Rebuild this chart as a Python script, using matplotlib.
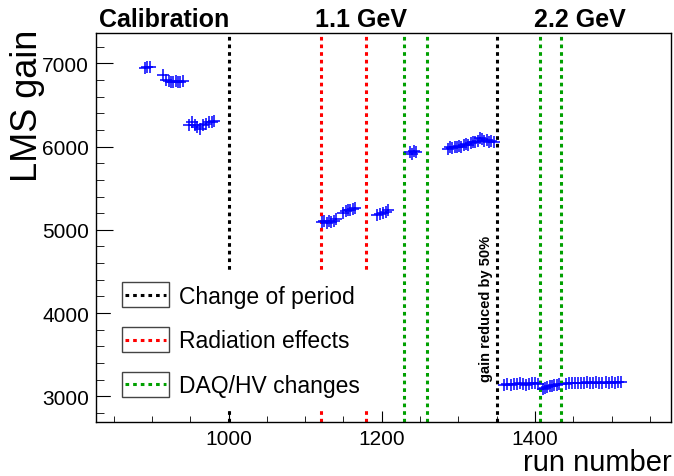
import matplotlib
matplotlib.use("Agg")
import matplotlib.pyplot as plt
from matplotlib.legend_handler import HandlerBase
from matplotlib.patches import Rectangle
from matplotlib.lines import Line2D
from matplotlib.ticker import MultipleLocator

plt.rcParams['font.family'] = ['Liberation Sans', 'DejaVu Sans']

# run number / LMS gain
calib_runs = [891, 894, 897, 915, 918, 922, 925, 928, 931, 934, 937, 940,
              948, 952, 956, 959, 963, 967, 971, 974, 978, 981]
calib_gain = [6940, 6960, 6950, 6860, 6800, 6790, 6780, 6770, 6790, 6770, 6780, 6790,
              6260, 6290, 6260, 6240, 6210, 6260, 6270, 6290, 6300, 6310]

low_runs = [1122, 1125, 1128, 1131, 1134, 1137, 1140,
            1150, 1153, 1156, 1159, 1162, 1165,
            1194, 1198, 1202, 1205, 1208,
            1237, 1240, 1242, 1244,
            1286, 1289, 1292, 1295, 1298, 1301, 1304, 1307, 1310, 1313, 1316,
            1319, 1322, 1325, 1328, 1331, 1334, 1337, 1340, 1343, 1346]
low_gain = [5090, 5110, 5080, 5100, 5090, 5110, 5130,
            5200, 5230, 5240, 5240, 5250, 5260,
            5175, 5185, 5200, 5220, 5240,
            5940, 5910, 5950, 5930,
            5970, 5990, 5980, 6000, 5990, 6010, 6000, 6020, 6030, 6020, 6040,
            6050, 6060, 6070, 6100, 6090, 6070, 6080, 6060, 6070, 6060]

high_runs = [1360, 1364, 1368, 1372, 1376, 1380, 1384, 1388, 1392, 1396, 1400, 1404,
             1410, 1413, 1416, 1419, 1422, 1425, 1428, 1431,
             1440, 1444, 1448, 1452, 1456, 1460, 1464, 1468, 1472, 1476, 1480,
             1484, 1488, 1492, 1496, 1500, 1504, 1508, 1512]
high_gain = [3140, 3145, 3140, 3150, 3145, 3155, 3150, 3140, 3150, 3155, 3160, 3150,
             3090, 3100, 3110, 3120, 3130, 3135, 3140, 3150,
             3150, 3160, 3155, 3165, 3160, 3165, 3160, 3170, 3165, 3160, 3170,
             3165, 3160, 3170, 3165, 3170, 3165, 3170, 3175]

period_lines = [1000, 1350]
radiation_lines = [1120, 1180]
daq_lines = [1229, 1259, 1407, 1434]

line_colors = {"period": "black", "radiation": "#ff0000", "daq": "#00a000"}
dotted = (0, (1.2, 1.3))


class BoxLineHandler(HandlerBase):
    def create_artists(self, legend, orig_handle, xdescent, ydescent,
                       width, height, fontsize, trans):
        box = Rectangle((-xdescent, -ydescent), width, height, fill=False,
                        edgecolor="#444444", lw=1.0, transform=trans)
        y = -ydescent + height / 2
        line = Line2D([-xdescent + 2, -xdescent + width - 2], [y, y],
                      color=orig_handle.get_color(), lw=2.2, linestyle=dotted,
                      transform=trans)
        return [box, line]


fig = plt.figure(figsize=(6.74, 4.77), dpi=100)
ax = fig.add_axes([0.1424, 0.1138, 0.8527, 0.8149])

for x in period_lines:
    ax.axvline(x, color=line_colors["period"], lw=2.2, linestyle=dotted, zorder=1)
for x in radiation_lines:
    ax.axvline(x, color=line_colors["radiation"], lw=2.2, linestyle=dotted, zorder=1)
for x in daq_lines:
    ax.axvline(x, color=line_colors["daq"], lw=2.2, linestyle=dotted, zorder=1)

for runs, gain in [(calib_runs, calib_gain), (low_runs, low_gain), (high_runs, high_gain)]:
    ax.plot(runs, gain, linestyle="none", marker="+", markersize=9,
            markeredgewidth=1.1, color="blue", zorder=6)

ax.set_xlim(827, 1577)
ax.set_ylim(2695, 7364)
ax.xaxis.set_major_locator(MultipleLocator(200))
ax.xaxis.set_minor_locator(MultipleLocator(50))
ax.yaxis.set_major_locator(MultipleLocator(1000))
ax.yaxis.set_minor_locator(MultipleLocator(200))
ax.tick_params(axis="both", which="both", direction="in", labelsize=15,
               top=False, right=False)
ax.tick_params(axis="x", which="major", length=8, pad=5)
ax.tick_params(axis="x", which="minor", length=4)
ax.tick_params(axis="y", which="major", length=12, pad=5)
ax.tick_params(axis="y", which="minor", length=6)
for s in ax.spines.values():
    s.set_linewidth(1.0)

handles = [Line2D([], [], color=line_colors["period"]),
           Line2D([], [], color=line_colors["radiation"]),
           Line2D([], [], color=line_colors["daq"])]
labels = ["Change of period", "Radiation effects", "DAQ/HV changes"]
leg = ax.legend(handles, labels, handler_map={Line2D: BoxLineHandler()},
                loc="upper left", bbox_to_anchor=(0.027, 0.385), borderaxespad=0,
                fontsize=16.5, handlelength=2.05, handleheight=1.3,
                handletextpad=0.45, labelspacing=0.85, borderpad=0.45,
                frameon=True, fancybox=False, framealpha=1,
                facecolor="white", edgecolor="white")
leg.set_zorder(5)

ax.text(1336, 3190, "gain reduced by 50%", rotation=90, ha="center", va="bottom",
        fontsize=10.5, fontweight="bold", zorder=7)

fig.text(0.0415, 0.937, "LMS gain", rotation=90, ha="center", va="top", fontsize=26)
fig.text(0.997, 0.0135, "run number", ha="right", va="baseline", fontsize=21)

fig.text(0.243, 0.943, "Calibration", ha="center", va="baseline", fontsize=18, fontweight="bold")
fig.text(0.536, 0.943, "1.1 GeV", ha="center", va="baseline", fontsize=18, fontweight="bold")
fig.text(0.861, 0.943, "2.2 GeV", ha="center", va="baseline", fontsize=18, fontweight="bold")

fig.savefig("out.png", dpi=100)
